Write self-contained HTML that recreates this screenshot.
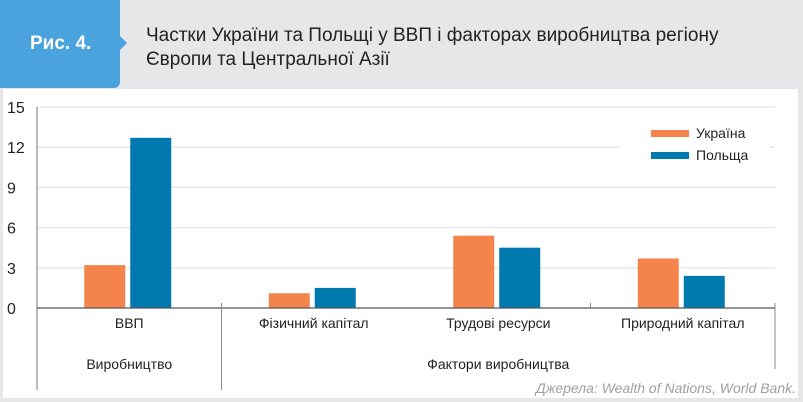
<!DOCTYPE html>
<html><head><meta charset="utf-8"><style>
body{margin:0;width:803px;height:402px;background:#e6e7e8;font-family:"Liberation Sans",sans-serif;overflow:hidden;position:relative}
#tab{position:absolute;left:0;top:0;width:120px;height:88px;background:#4aa3dc;border-radius:0 0 6px 0}
#tab span{position:absolute;left:30px;top:33px;color:#fff;font-weight:bold;font-size:19px}
#arrow{position:absolute;left:120px;top:36px;width:0;height:0;border-top:7px solid transparent;border-bottom:7px solid transparent;border-left:7px solid #4aa3dc}
#title{position:absolute;left:146px;top:24px;font-size:19px;line-height:24px;color:#222}
#panel{position:absolute;left:3px;top:89px;width:795px;height:309px;background:#fff}
svg{position:absolute;left:0;top:0}
</style></head><body>
<div id="tab"><span>Рис. 4.</span></div>
<div id="arrow"></div>
<div id="title">Частки України та Польщі у ВВП і факторах виробництва регіону<br>Європи та Центральної Азії</div>
<div id="panel"></div>
<svg id="chart" width="803" height="402"></svg>
<script>
const categories=["ВВП","Фізичний капітал","Трудові ресурси","Природний капітал"];
const ukraine=[3.2,1.1,5.4,3.7];
const poland=[12.7,1.5,4.5,2.4];
const ticks=[0,3,6,9,12,15];
const NS="http://www.w3.org/2000/svg";
const svg=document.getElementById('chart');
const x0=37,x1=775,yb=308,yt=107,max=15;
const y=v=>yb-(yb-yt)*v/max;
const cw=(x1-x0)/categories.length;
function mk(t,a,txt){const e=document.createElementNS(NS,t);for(const k in a)e.setAttribute(k,a[k]);if(txt!==undefined)e.textContent=txt;svg.appendChild(e);return e;}
ticks.forEach(t=>{
 if(t>0){const g=mk('line',{x1:x0,x2:x1,y1:y(t),y2:y(t),stroke:'#e4e4e4','stroke-width':1.3});
 
 }
 const l=mk('text',{x:7,y:y(t)+6,'font-size':16,fill:'#222'},t);
 
 
});
const lb=mk('rect',{x:620,y:118,width:150,height:58,fill:'#fff'});


categories.forEach((c,i)=>{
 const cx=x0+cw*(i+0.5);
 const b1=mk('rect',{x:cx-45,y:y(ukraine[i]),width:41,height:yb-y(ukraine[i]),fill:'#f4844b'});
 
 
 const b2=mk('rect',{x:cx+1,y:y(poland[i]),width:41,height:yb-y(poland[i]),fill:'#0079ae'});
 
 
 const t=mk('text',{x:cx,y:328,'font-size':14,'text-anchor':'middle',fill:'#222'},c);
 
 
});
const ax=mk('line',{x1:x0,x2:x1,y1:yb,y2:yb,stroke:'#555','stroke-width':1.3});


const va=mk('line',{x1:x0,x2:x0,y1:yt,y2:390,stroke:'#777','stroke-width':1});


[[x0+cw,303,390],[x0+cw*3,303,308],[x1,303,369]].forEach(s=>{
 const l=mk('line',{x1:s[0],x2:s[0],y1:s[1],y2:s[2],stroke:'#888','stroke-width':1});
 
 
});
const g1=mk('text',{x:x0+cw/2,y:369,'font-size':14,'text-anchor':'middle',fill:'#222'},'Виробництво');


const g2=mk('text',{x:x0+cw*2.5,y:369,'font-size':14,'text-anchor':'middle',fill:'#222'},'Фактори виробництва');


[['Україна','#f4844b',133],['Польща','#0079ae',155]].forEach(e=>{
 const r=mk('rect',{x:651,y:e[2]-3,width:38,height:7,fill:e[1]});
 
 
 const t=mk('text',{x:696,y:e[2]+5,'font-size':14,fill:'#222'},e[0]);
 
 
});
const s=mk('text',{x:796,y:393,'font-size':14,'font-style':'italic','text-anchor':'end',fill:'#a0a0a0'},'Джерела: Wealth of Nations, World Bank.');


</script>
</body></html>
